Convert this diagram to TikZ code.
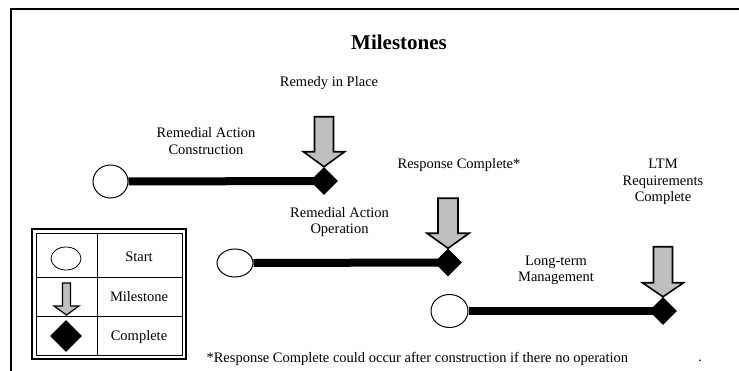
\documentclass[tikz,border=0pt]{standalone}
\usepackage{fontspec}
\setmainfont{Liberation Serif}
\usetikzlibrary{positioning,shapes.geometric}

\newcommand{\msarrow}[6][]{%
  \begin{scope}[shift={(#2)}]
    \draw[msfill,#1] (0,0) -- (#4,-#5) -- (#3,-#5) -- (#3,-#6) -- (-#3,-#6) -- (-#3,-#5) -- (-#4,-#5) -- cycle;
  \end{scope}}

\begin{document}
\begin{tikzpicture}[x=1pt,y=-1pt,
    every node/.style={font=\fontsize{14.5}{16.5}\selectfont},
    desc/.style={align=center},
    startnode/.style={ellipse,draw,line width=1pt,fill=white,minimum width=35pt,minimum height=33pt,inner sep=0pt},
    donenode/.style={diamond,fill=black,minimum width=28pt,minimum height=28pt,inner sep=0pt},
    bar/.style={line width=8pt},
    msfill/.style={line width=1.6pt,fill=black!25,line join=miter}]
  \useasboundingbox (0,0) rectangle (739,371);
  \draw[line width=2pt] (11,371) -- (11,9) -- (739,9);
  \node[font=\bfseries\fontsize{21}{24}\selectfont] (title) at (399,42) {Milestones};

  \node[startnode] (rac) at (110.5,181.5) {};
  \node[donenode] (rip) at (324,181) {};
  \draw[bar] (rac.east) -- (rip.center);
  \msarrow{rip.north}{9.5}{20.5}{15}{50}
  \node[desc] (remedy) at (329,83) {Remedy in Place};
  \node[desc] (racl) at (206,141) {Remedial Action\\Construction};

  \node[startnode,minimum width=36pt,minimum height=28pt] (rao) at (235,263) {};
  \node[donenode] (resp) at (448,262.5) {};
  \draw[bar] (rao.east) -- (resp.center);
  \msarrow{resp.north}{10}{21}{15}{50}
  \node[desc] (respl) at (459,165) {Response Complete*};
  \node[desc] (raol) at (339.5,222) {Remedial Action\\Operation};

  \node[startnode,minimum width=37pt,minimum height=33pt] (ltmg) at (449.5,311) {};
  \node[donenode] (ltmc) at (663,311) {};
  \draw[bar] (ltmg.east) -- (ltmc.center);
  \msarrow{ltmc.north}{9.5}{20.5}{14}{50}
  \node[desc] (ltmcl) at (663,182) {LTM\\Requirements\\Complete};
  \node[desc] (ltmgl) at (556,270.5) {Long-term\\Management};

  \node[anchor=west] (note) at (203,359) {*Response Complete could occur after construction if there no operation};
  \node (dot) at (700,361) {.};

  \draw[line width=1.5pt] (32,229) rectangle (186,359);
  \draw[line width=0.8pt] (36,233) rectangle (182,355);
  \draw[line width=0.8pt] (97,233) -- (97,355) (36,277) -- (182,277) (36,316) -- (182,316);
  \node[startnode,minimum width=30pt,minimum height=23pt,line width=0.8pt] (keystart) at (66,258.5) {};
  \coordinate (keytip) at (66.5,315);
  \msarrow[line width=1.2pt]{keytip}{4}{12.5}{9}{32}
  \node[donenode,minimum width=32pt,minimum height=32pt] (keydone) at (66,336) {};
  \node (keystartl) at (139,257) {Start};
  \node (keymsl) at (139,297) {Milestone};
  \node (keydonel) at (139,337) {Complete};
\end{tikzpicture}
\end{document}
